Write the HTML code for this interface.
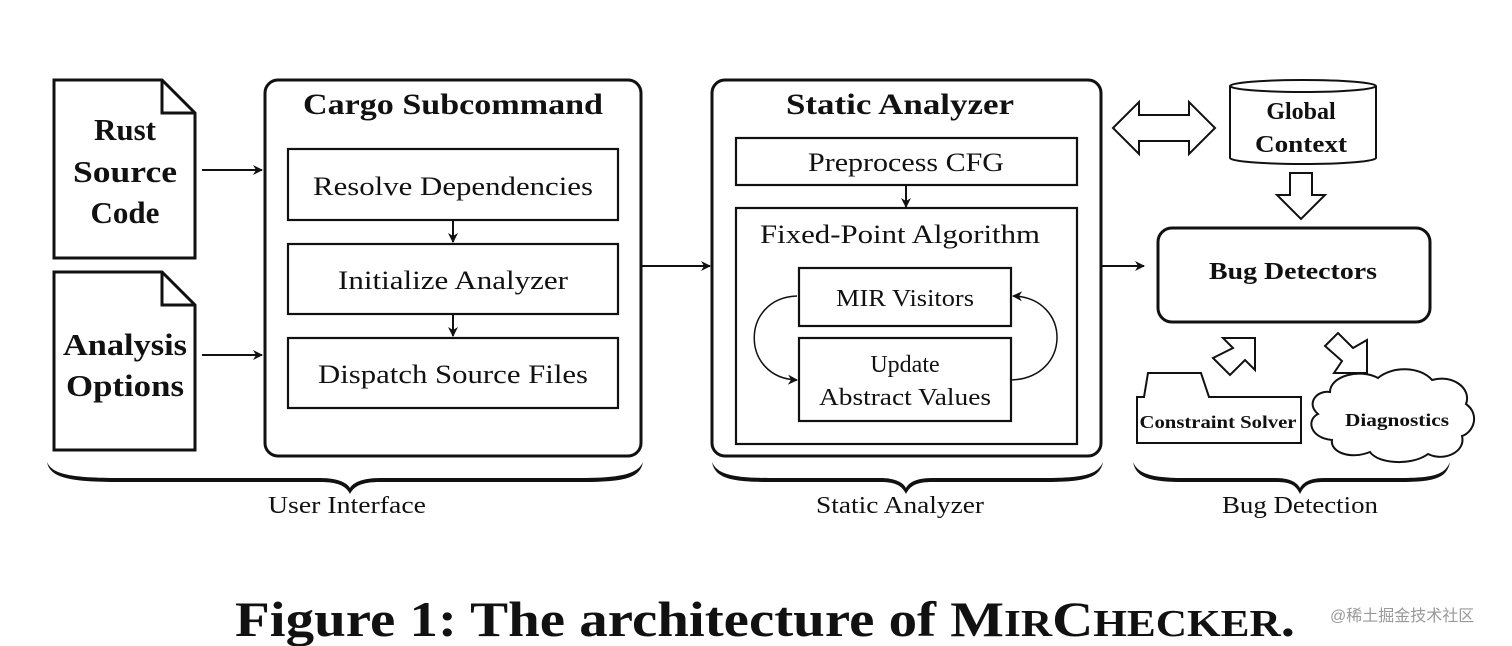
<!DOCTYPE html>
<html><head><meta charset="utf-8"><style>
html,body{margin:0;padding:0;background:#fff;}
svg{display:block;}
text{font-family:"Liberation Serif","DejaVu Serif",serif;fill:#111;}
.b{font-weight:bold;}
</style></head><body>
<svg width="1512" height="646" viewBox="0 0 1512 646" xmlns="http://www.w3.org/2000/svg">
<defs>
<marker id="ah" markerWidth="10" markerHeight="10" refX="9" refY="5" orient="auto" markerUnits="userSpaceOnUse">
<path d="M0,0 L10,5 L0,10 L3,5 Z" fill="#111"/></marker>
</defs>
<rect width="1512" height="646" fill="#fff"/>
<g fill="none" stroke="#111" stroke-width="3">
<!-- docs -->
<path d="M54,80 H162 L195,113 V258 H54 Z"/><path d="M162,80 V113 H195"/>
<path d="M54,272 H162 L195,305 V450 H54 Z"/><path d="M162,272 V305 H195"/>
<!-- cargo -->
<rect x="265" y="80" width="376" height="376" rx="13"/>
<rect x="712" y="80" width="389" height="376" rx="13"/>
<rect x="1158" y="228" width="272" height="94" rx="14"/>
</g>
<g fill="none" stroke="#111" stroke-width="2.2">
<rect x="288" y="149" width="330" height="71"/>
<rect x="288" y="244" width="330" height="70"/>
<rect x="288" y="338" width="330" height="70"/>
<rect x="736" y="138" width="341" height="47"/>
<rect x="736" y="208" width="341" height="236"/>
<rect x="799" y="268" width="212" height="58"/>
<rect x="799" y="338" width="212" height="83"/>
</g>
<g stroke="#111" stroke-width="2" fill="none">
<line x1="202" y1="170" x2="262" y2="170" marker-end="url(#ah)"/>
<line x1="202" y1="355" x2="262" y2="355" marker-end="url(#ah)"/>
<line x1="453" y1="220" x2="453" y2="242" marker-end="url(#ah)"/>
<line x1="453" y1="314" x2="453" y2="336" marker-end="url(#ah)"/>
<line x1="641" y1="266" x2="710" y2="266" marker-end="url(#ah)"/>
<line x1="906" y1="185" x2="906" y2="207" marker-end="url(#ah)"/>
<line x1="1101" y1="266" x2="1144" y2="266" marker-end="url(#ah)"/>
<path d="M797,296 C740,298 740,378 797,380" stroke-width="1.5" marker-end="url(#ah)"/>
<path d="M1011,380 C1072,378 1072,298 1013,296" stroke-width="1.5" marker-end="url(#ah)"/>
</g>
<g fill="#fff" stroke="#111" stroke-width="2">
<!-- double arrow -->
<path d="M1113,128 L1139,102 V115 H1189 V102 L1215,128 L1189,154 V141 H1139 V154 Z"/>
<!-- cylinder -->
<path d="M1230,86 V158 A73,6 0 0 0 1376,158 V86"/>
<ellipse cx="1303" cy="86" rx="73" ry="6"/>
<!-- down arrow -->
<path d="M1290,173 H1312 V195 H1325 L1301,219 L1277,195 H1290 Z"/>
<!-- up-right arrow -->
<path d="M1213,358 L1230,375 L1245,360 L1255,370 V338 H1223 L1233,348 Z"/>
<!-- down-right arrow -->
<path d="M1325,346 L1338,333 L1353,348 L1367,340 V373 H1334 L1342,361 Z"/>
<!-- folder -->
<path d="M1137,443 V397 L1144,397 L1148,373 H1201 L1209,397 H1301 V443 Z"/>
<!-- cloud -->
<path d="M1330,392 C1330,376 1360,368 1378,378 C1392,366 1420,366 1432,380 C1452,374 1472,388 1466,404 C1480,414 1474,432 1462,436 C1466,452 1444,462 1428,454 C1412,466 1378,464 1370,452 C1350,460 1330,452 1332,440 C1310,438 1306,420 1318,414 C1306,404 1316,390 1330,392 Z"/>
</g>
<!-- braces -->
<g fill="#111" stroke="none">
<path d="M47,462 C50,478 70,482 120,482 L320,482 C338,482 346,486 350,494 C354,486 362,482 380,482 L580,482 C625,482 640,478 643,462 C638,474 620,478 580,478 L380,478 C360,478 352,484 350,488 C348,484 340,478 320,478 L120,478 C70,478 52,474 47,462 Z"/>
<path d="M712,462 C715,478 730,482 770,482 L880,482 C896,482 902,486 906,494 C910,486 916,482 932,482 L1045,482 C1085,482 1100,478 1103,462 C1098,474 1085,478 1045,478 L932,478 C914,478 908,484 906,488 C904,484 898,478 880,478 L770,478 C732,478 717,474 712,462 Z"/>
<path d="M1133,462 C1136,478 1150,482 1185,482 L1276,482 C1292,482 1296,486 1300,494 C1304,486 1308,482 1324,482 L1400,482 C1435,482 1447,478 1450,462 C1445,474 1435,478 1400,478 L1324,478 C1308,478 1302,484 1300,488 C1298,484 1292,478 1276,478 L1185,478 C1152,478 1138,474 1133,462 Z"/>
</g>
<!-- text -->
<g text-anchor="middle">
<text x="125" y="140" font-size="31" class="b">Rust</text>
<text x="125" y="182" font-size="31" class="b" textLength="104" lengthAdjust="spacingAndGlyphs">Source</text>
<text x="125" y="223" font-size="31" class="b">Code</text>
<text x="125" y="355" font-size="31" class="b" textLength="124" lengthAdjust="spacingAndGlyphs">Analysis</text>
<text x="125" y="396" font-size="31" class="b" textLength="118" lengthAdjust="spacingAndGlyphs">Options</text>
<text x="453" y="114" font-size="30" class="b" textLength="300" lengthAdjust="spacingAndGlyphs">Cargo Subcommand</text>
<text x="453" y="195" font-size="26" textLength="280" lengthAdjust="spacingAndGlyphs">Resolve Dependencies</text>
<text x="453" y="289" font-size="26" textLength="230" lengthAdjust="spacingAndGlyphs">Initialize Analyzer</text>
<text x="453" y="383" font-size="26" textLength="270" lengthAdjust="spacingAndGlyphs">Dispatch Source Files</text>
<text x="900" y="114" font-size="30" class="b" textLength="228" lengthAdjust="spacingAndGlyphs">Static Analyzer</text>
<text x="906" y="171" font-size="26" textLength="196" lengthAdjust="spacingAndGlyphs">Preprocess CFG</text>
<text x="900" y="243" font-size="26" textLength="280" lengthAdjust="spacingAndGlyphs">Fixed-Point Algorithm</text>
<text x="905" y="306" font-size="24" textLength="138" lengthAdjust="spacingAndGlyphs">MIR Visitors</text>
<text x="905" y="372" font-size="24">Update</text>
<text x="905" y="405" font-size="24" textLength="172" lengthAdjust="spacingAndGlyphs">Abstract Values</text>
<text x="1301" y="119" font-size="24" class="b">Global</text>
<text x="1301" y="152" font-size="24" class="b" textLength="92" lengthAdjust="spacingAndGlyphs">Context</text>
<text x="1293" y="279" font-size="24" class="b" textLength="168" lengthAdjust="spacingAndGlyphs">Bug Detectors</text>
<text x="1218" y="428" font-size="18" class="b" textLength="157" lengthAdjust="spacingAndGlyphs">Constraint Solver</text>
<text x="1397" y="426" font-size="18" class="b" textLength="104" lengthAdjust="spacingAndGlyphs">Diagnostics</text>
<text x="347" y="513" font-size="24" textLength="158" lengthAdjust="spacingAndGlyphs">User Interface</text>
<text x="900" y="513" font-size="24" textLength="168" lengthAdjust="spacingAndGlyphs">Static Analyzer</text>
<text x="1300" y="513" font-size="24" textLength="156" lengthAdjust="spacingAndGlyphs">Bug Detection</text>
</g>
<text x="235" y="636" font-size="50" class="b" textLength="1060" lengthAdjust="spacingAndGlyphs">Figure 1:  The architecture of M<tspan font-size="38">IR</tspan>C<tspan font-size="38">HECKER</tspan>.</text>
<text x="1330" y="621" font-size="16" style="fill:#999;font-family:'Liberation Sans','Noto Sans CJK SC',sans-serif">@稀土掘金技术社区</text>
</svg>
</body></html>
